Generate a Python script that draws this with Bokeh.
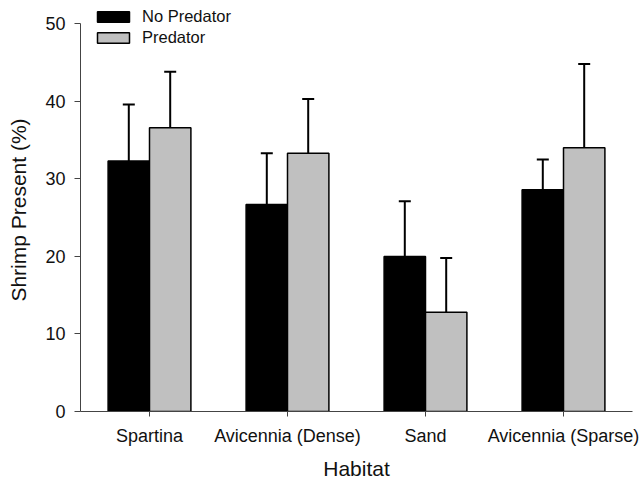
from bokeh.plotting import figure
from bokeh.models import ColumnDataSource, FactorRange, Range1d, Whisker, Legend, LegendItem, TeeHead, FixedTicker
from bokeh.transform import dodge
from bokeh.embed import file_html
from bokeh.resources import INLINE

habitats = ["Spartina", "Avicennia (Dense)", "Sand", "Avicennia (Sparse)"]
no_predator = [32.3, 26.7, 20.0, 28.6]
no_predator_err = [7.3, 6.6, 7.1, 3.9]
predator = [36.6, 33.3, 12.8, 34.0]
predator_err = [7.2, 7.0, 7.0, 10.8]
y_ticks = [0, 10, 20, 30, 40, 50]

FONT = "Liberation Sans"

src = ColumnDataSource(dict(
    habitat=habitats,
    np=no_predator,
    np_top=[v + e for v, e in zip(no_predator, no_predator_err)],
    pr=predator,
    pr_top=[v + e for v, e in zip(predator, predator_err)],
))

p = figure(width=642, height=482, x_range=FactorRange(*habitats, range_padding=0),
           y_range=Range1d(0, 51.97), output_backend="svg", toolbar_location=None,
           min_border_left=80, min_border_right=10, min_border_top=8, min_border_bottom=71)
p.outline_line_color = None
p.xgrid.grid_line_color = None
p.ygrid.grid_line_color = None
p.background_fill_color = "white"
p.border_fill_color = "white"

r1 = p.vbar(x=dodge("habitat", -0.15, range=p.x_range), top="np", width=0.3, source=src,
            fill_color="black", line_color="black", line_width=1.5)
r2 = p.vbar(x=dodge("habitat", 0.15, range=p.x_range), top="pr", width=0.3, source=src,
            fill_color="#c0c0c0", line_color="black", line_width=1.5)

for off, lo, hi in [(-0.15, "np", "np_top"), (0.15, "pr", "pr_top")]:
    w = Whisker(base=dodge("habitat", off, range=p.x_range), lower=lo, upper=hi, source=src,
                line_color="black", line_width=2,
                upper_head=TeeHead(size=12, line_width=2, line_color="black"),
                lower_head=None, level="glyph")
    p.add_layout(w)

# axes
p.yaxis.ticker = FixedTicker(ticks=y_ticks)
p.yaxis.bounds = (0, 50)
for ax in (p.xaxis, p.yaxis):
    ax.axis_line_color = "#444444"
    ax.major_tick_line_color = "#444444"
    ax.minor_tick_line_color = None
    ax.major_tick_in = 0
    ax.major_label_text_font = FONT
    ax.major_label_text_font_size = "18px"
    ax.major_label_text_color = "#111111"
    ax.axis_label_text_font = FONT
    ax.axis_label_text_font_size = "21px"
    ax.axis_label_text_font_style = "normal"
    ax.axis_label_text_color = "#111111"
p.yaxis.major_tick_out = 6
p.yaxis.major_label_standoff = 9
p.yaxis.axis_label = "Shrimp Present (%)"
p.yaxis.axis_label_standoff = 12
p.xaxis.major_tick_out = 5
p.xaxis.major_label_standoff = 9
p.xaxis.axis_label = "Habitat"
p.xaxis.axis_label_standoff = 8

legend = Legend(items=[LegendItem(label="No Predator", renderers=[r1]),
                       LegendItem(label="Predator", renderers=[r2])],
                location=(13, 364), orientation="vertical",
                glyph_width=40, glyph_height=13, label_height=13, spacing=2,
                label_standoff=9, padding=0, margin=0,
                border_line_color=None, background_fill_alpha=0,
                label_text_font=FONT, label_text_font_size="16.5px", label_text_color="#111111")
p.add_layout(legend)

open("out.html", "w").write(file_html(p, INLINE))
